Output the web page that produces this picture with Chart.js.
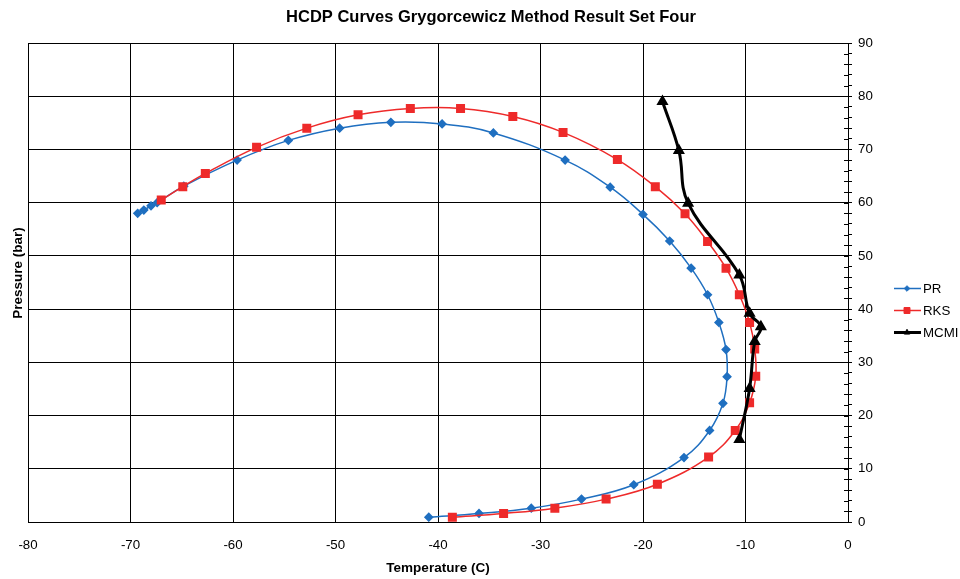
<!DOCTYPE html>
<html>
<head>
<meta charset="utf-8">
<title>HCDP Curves</title>
<script src="https://cdn.jsdelivr.net/npm/chart.js@4.4.0/dist/chart.umd.min.js"></script>
<style>
  html, body { margin: 0; padding: 0; background: #fff; }
  #wrap { width: 960px; height: 579px; position: relative; }
</style>
</head>
<body>
<div id="wrap"><canvas id="hcdpChart"></canvas></div>
<script>
// Peng-Robinson envelope, bubble side to dew side
const prTemp  = [-40.9, -36.0, -30.9, -26.0, -20.9, -16.0, -13.5, -12.2, -11.8, -11.9, -12.6, -13.7, -15.3, -17.4, -20.0, -23.2, -27.6, -34.6, -39.6, -44.6, -49.6, -54.6, -59.6, -64.8, -67.4, -68.0, -68.7, -69.3];
const prPress = [0.9, 1.6, 2.6, 4.3, 7.0, 12.1, 17.2, 22.3, 27.3, 32.4, 37.5, 42.7, 47.7, 52.8, 57.8, 62.9, 68.0, 73.1, 74.8, 75.1, 74.0, 71.7, 68.0, 63.1, 60.0, 59.4, 58.6, 58.0];

// Redlich-Kwong-Soave envelope
const rksTemp  = [-38.6, -33.6, -28.6, -23.6, -18.6, -13.6, -11.0, -9.6, -9.0, -9.1, -9.6, -10.6, -11.9, -13.7, -15.9, -18.8, -22.5, -27.8, -32.7, -37.8, -42.7, -47.8, -52.8, -57.7, -62.7, -64.9, -67.0];
const rksPress = [0.9, 1.6, 2.6, 4.3, 7.1, 12.2, 17.2, 22.4, 27.4, 32.5, 37.5, 42.7, 47.7, 52.7, 57.9, 63.0, 68.1, 73.2, 76.2, 77.7, 77.7, 76.5, 74.0, 70.4, 65.5, 63.0, 60.5];

// MCMI measured points
const mcmiTemp  = [-18.1, -16.5, -15.6, -10.6, -9.6, -8.5, -9.1, -9.6, -10.6];
const mcmiPress = [79.0, 69.8, 59.9, 46.4, 39.2, 36.7, 33.9, 25.1, 15.5];

const xTicks = { min: -80, max: 0, step: 10 };
const yTicks = { min: 0, max: 90, step: 10, minorStep: 2 };

const TITLE = 'HCDP Curves Grygorcewicz Method Result Set Four';
const Y_TITLE = 'Pressure (bar)';
const FONT = "'Liberation Sans', Arial, sans-serif";
const BLUE = '#1f6fc0';
const RED = '#ee2a2a';
const BLACK = '#000000';

// smaller markers in the legend than on the plot
const legendRadius = { PR: 2.8, RKS: 4.2, MCMI: 3.2 };

function toPoints(xs, ys) {
    return xs.map((x, i) => ({ x: x, y: ys[i] }));
}

// titles, inner halves of the right axis ticks and the line+marker legend
const chartDecor = {
    id: 'chartDecor',
    afterDraw(chart) {
        const ctx = chart.ctx;
        const area = chart.chartArea;
        const yScale = chart.scales.y;
        ctx.save();

        ctx.fillStyle = '#000';
        ctx.font = 'bold 16.5px ' + FONT;
        ctx.textAlign = 'center';
        ctx.textBaseline = 'middle';
        ctx.fillText(TITLE, 491, 17);

        ctx.save();
        ctx.font = 'bold 13.5px ' + FONT;
        ctx.translate(18, 273);
        ctx.rotate(-Math.PI / 2);
        ctx.fillText(Y_TITLE, 0, 0);
        ctx.restore();

        ctx.strokeStyle = '#000';
        ctx.lineWidth = 1;
        yScale.ticks.forEach(t => {
            const py = Math.round(yScale.getPixelForValue(t.value)) + 0.5;
            ctx.beginPath();
            ctx.moveTo(area.right - 4, py);
            ctx.lineTo(area.right, py);
            ctx.stroke();
        });

        ctx.font = '13.3px ' + FONT;
        ctx.textAlign = 'left';
        chart.data.datasets.forEach((ds, i) => {
            const ly = 288.5 + i * 22;
            ctx.strokeStyle = ds.borderColor;
            ctx.fillStyle = ds.backgroundColor;
            ctx.lineWidth = ds.borderWidth;
            ctx.beginPath();
            ctx.moveTo(894, ly);
            ctx.lineTo(921, ly);
            ctx.stroke();
            ctx.lineWidth = 1;
            Chart.helpers.drawPoint(ctx, { pointStyle: ds.pointStyle, radius: legendRadius[ds.label], borderWidth: 1 }, 907, ly);
            ctx.fillStyle = '#000';
            ctx.fillText(ds.label, 923, ly + 1);
        });
        ctx.restore();
    }
};

Chart.defaults.font.family = FONT;
Chart.defaults.color = '#000';

const ctx = document.getElementById('hcdpChart').getContext('2d');
new Chart(ctx, {
    type: 'scatter',
    data: {
        datasets: [
            {
                label: 'PR',
                data: toPoints(prTemp, prPress),
                borderColor: BLUE,
                backgroundColor: BLUE,
                borderWidth: 1.5,
                pointStyle: 'rectRot',
                pointRadius: 3.8,
                showLine: true,
                tension: 0.4,
                order: 3
            },
            {
                label: 'RKS',
                data: toPoints(rksTemp, rksPress),
                borderColor: RED,
                backgroundColor: RED,
                borderWidth: 1.5,
                pointStyle: 'rect',
                pointRadius: 5.3,
                showLine: true,
                tension: 0.4,
                order: 2
            },
            {
                label: 'MCMI',
                data: toPoints(mcmiTemp, mcmiPress),
                borderColor: BLACK,
                backgroundColor: BLACK,
                borderWidth: 3,
                pointStyle: 'triangle',
                pointRadius: 4,
                showLine: true,
                tension: 0.4,
                order: 1
            }
        ]
    },
    options: {
        responsive: true,
        maintainAspectRatio: false,
        animation: false,
        layout: { padding: { top: 43, left: 28, right: 0, bottom: 0 } },
        plugins: {
            legend: { display: false },
            tooltip: { enabled: false },
            title: { display: false }
        },
        scales: {
            x: {
                type: 'linear',
                min: xTicks.min,
                max: xTicks.max,
                ticks: { stepSize: xTicks.step, padding: 15, font: { size: 13.3 } },
                grid: { color: '#000', drawTicks: false },
                border: { color: '#000' },
                title: {
                    display: true,
                    text: 'Temperature (C)',
                    font: { size: 13.5, weight: 'bold' },
                    padding: { top: 0, bottom: 3 }
                },
                afterFit: s => { s.height = 57; }
            },
            y: {
                type: 'linear',
                position: 'right',
                min: yTicks.min,
                max: yTicks.max,
                ticks: {
                    stepSize: yTicks.minorStep,
                    autoSkip: false,
                    padding: 6,
                    font: { size: 13.3 },
                    callback: v => (v % yTicks.step === 0 ? v : '')
                },
                grid: {
                    color: c => (c.tick && c.tick.value % yTicks.step === 0 ? '#000' : 'rgba(0,0,0,0)'),
                    tickColor: '#000',
                    tickLength: 4
                },
                border: { color: '#000' },
                afterFit: s => { s.width = 112; }
            }
        }
    },
    plugins: [chartDecor]
});
</script>
</body>
</html>
